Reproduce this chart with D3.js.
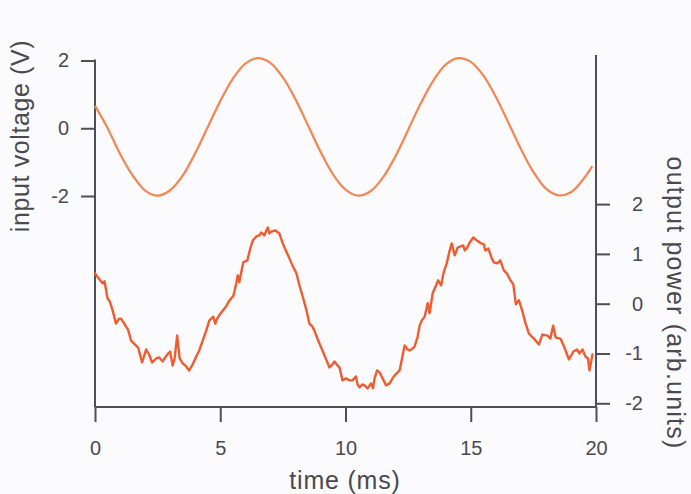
<!DOCTYPE html>
<html>
<head>
<meta charset="utf-8">
<script src="https://cdn.jsdelivr.net/npm/d3@7"></script>
<style>
  html, body { margin: 0; padding: 0; background: #fbfafd; }
  svg { display: block; }
  text { font-family: "Liberation Sans", Arial, Helvetica, sans-serif; fill: #4a4a4e; }
</style>
</head>
<body>
<script>
// Tick values for the three axes
const timeTicks = [0, 5, 10, 15, 20];
const voltageTicks = [-2, 0, 2];
const powerTicks = [-2, -1, 0, 1, 2];

// Drive signal: input voltage (V) vs time (ms)
const inputTime = [0, 0.5, 1, 1.5, 2, 2.5, 3, 3.5, 4, 4.5, 5, 5.5, 6, 6.5, 7, 7.5, 8, 8.5, 9, 9.5,
  10, 10.5, 11, 11.5, 12, 12.5, 13, 13.5, 14, 14.5, 15, 15.5, 16, 16.5, 17, 17.5, 18, 18.5, 19, 19.5, 19.85];
const inputVoltage = [0.66, 0.01, -0.76, -1.39, -1.84, -1.99, -1.83, -1.40, -0.74, 0.03, 0.80, 1.46, 1.91, 2.07,
  1.93, 1.50, 0.86, 0.09, -0.69, -1.36, -1.81, -1.99, -1.86, -1.45, -0.82, -0.05, 0.73, 1.40, 1.88, 2.07,
  1.96, 1.56, 0.93, 0.17, -0.61, -1.29, -1.78, -1.98, -1.89, -1.50, -1.12];

// Detected response: output power (arb. units) vs time (ms)
const outputTime = [0.00, 0.14, 0.30, 0.38, 0.50, 0.60, 0.70, 0.84, 0.96, 1.04, 1.14, 1.24, 1.32, 1.44, 1.60, 1.72,
  1.88, 2.04, 2.16, 2.28, 2.44, 2.56, 2.70, 2.80, 2.92, 3.00, 3.10, 3.18, 3.28, 3.38, 3.50, 3.64, 3.76, 3.90,
  4.04, 4.16, 4.30, 4.44, 4.56, 4.72, 4.80, 4.88, 4.96, 5.08, 5.24, 5.32, 5.44, 5.52, 5.64, 5.70, 5.76, 5.84,
  5.92, 6.08, 6.20, 6.30, 6.44, 6.56, 6.64, 6.76, 6.84, 6.90, 6.96, 7.04, 7.20, 7.36, 7.48, 7.60, 7.76, 7.88,
  8.04, 8.16, 8.30, 8.44, 8.56, 8.68, 8.76, 8.88, 8.96, 9.08, 9.16, 9.28, 9.36, 9.48, 9.56, 9.68, 9.76, 9.88,
  10.02, 10.16, 10.28, 10.42, 10.48, 10.56, 10.68, 10.76, 10.88, 11.02, 11.10, 11.16, 11.26, 11.36, 11.44,
  11.62, 11.76, 11.88, 11.96, 12.16, 12.28, 12.36, 12.48, 12.56, 12.68, 12.76, 12.88, 12.96, 13.04, 13.16,
  13.28, 13.36, 13.48, 13.60, 13.70, 13.82, 13.92, 14.04, 14.14, 14.24, 14.36, 14.48, 14.60, 14.70, 14.76,
  14.84, 14.96, 15.10, 15.24, 15.42, 15.52, 15.58, 15.70, 15.84, 15.92, 16.06, 16.18, 16.32, 16.44, 16.58,
  16.70, 16.80, 16.92, 17.06, 17.18, 17.32, 17.52, 17.72, 17.86, 18.06, 18.18, 18.29, 18.39, 18.58, 18.74,
  18.92, 19.10, 19.24, 19.34, 19.46, 19.58, 19.68, 19.74, 19.86];
const outputPower = [0.61, 0.51, 0.41, 0.45, 0.11, 0.03, -0.13, -0.40, -0.30, -0.30, -0.38, -0.46, -0.52, -0.74,
  -0.82, -0.88, -1.18, -0.92, -1.02, -1.18, -1.10, -1.08, -1.16, -1.08, -1.00, -0.96, -1.24, -1.10, -0.64,
  -1.10, -1.20, -1.26, -1.34, -1.22, -1.06, -0.94, -0.74, -0.54, -0.34, -0.26, -0.40, -0.30, -0.23, -0.15,
  -0.05, 0.03, 0.11, 0.15, 0.41, 0.57, 0.43, 0.63, 0.83, 0.87, 1.11, 1.27, 1.35, 1.37, 1.43, 1.37, 1.47,
  1.53, 1.41, 1.45, 1.47, 1.41, 1.23, 1.09, 0.91, 0.77, 0.61, 0.37, 0.13, -0.13, -0.40, -0.46, -0.54, -0.70,
  -0.80, -0.94, -1.04, -1.18, -1.28, -1.22, -1.16, -1.24, -1.28, -1.54, -1.50, -1.54, -1.54, -1.46, -1.62,
  -1.68, -1.62, -1.64, -1.70, -1.60, -1.70, -1.50, -1.34, -1.38, -1.46, -1.64, -1.60, -1.50, -1.44, -1.34,
  -1.04, -0.84, -0.92, -0.94, -0.90, -0.86, -0.66, -0.44, -0.34, -0.26, 0.01, -0.19, 0.21, 0.35, 0.47, 0.37,
  0.63, 0.81, 1.03, 1.21, 0.97, 1.13, 1.15, 1.17, 1.07, 1.11, 1.23, 1.33, 1.27, 1.21, 1.19, 1.07, 1.11, 0.91,
  0.83, 0.81, 0.87, 0.67, 0.61, 0.47, 0.39, -0.01, 0.07, -0.15, -0.38, -0.60, -0.70, -0.82, -0.62, -0.64,
  -0.70, -0.44, -0.68, -0.70, -0.88, -1.12, -0.96, -0.92, -1.00, -0.92, -1.06, -1.10, -1.34, -1.02];

const W = 691, H = 494;
const axisColor = "#4e4e56";
const plainNumber = d => String(d);   // hyphen-minus, as printed on the axes

const svg = d3.select("body").append("svg")
  .attr("width", W).attr("height", H)
  .style("background", "#fbfafd");

// Scales: shared time axis, left voltage axis (upper trace), right power axis (lower trace)
const x = d3.scaleLinear().domain([0, 20]).range([95, 596]);
const yL = d3.scaleLinear().domain([-2, 2]).range([196, 60.5]);
const yR = d3.scaleLinear().domain([-2, 2]).range([403.3, 204.1]);
const baseY = 407;

function styleAxis(g) {
  g.selectAll("line, path").attr("stroke", axisColor).attr("stroke-width", 2);
  g.selectAll("text").style("font-size", "20px").attr("fill", "#4a4a4e");
}

// Bottom time axis
svg.append("g")
  .attr("transform", `translate(0,${baseY})`)
  .call(d3.axisBottom(x).tickValues(timeTicks).tickSizeInner(15).tickSizeOuter(0).tickPadding(19).tickFormat(plainNumber))
  .call(styleAxis)
  .call(g => g.select(".domain").attr("d", `M${x(0)},0H${x(20)}`));

// Left voltage axis
svg.append("g")
  .attr("transform", `translate(${x(0)},0)`)
  .call(d3.axisLeft(yL).tickValues(voltageTicks).tickSize(14).tickPadding(12).tickFormat(plainNumber))
  .call(styleAxis)
  .call(g => g.select(".domain").attr("d", `M0,${yL(2) - 1}V${baseY}`));

// Right power axis
svg.append("g")
  .attr("transform", `translate(${x(20)},0)`)
  .call(d3.axisRight(yR).tickValues(powerTicks).tickSize(14).tickFormat(plainNumber))
  .call(styleAxis)
  .call(g => g.select(".domain").attr("d", `M0,55V${baseY}`))
  .call(g => g.selectAll(".tick text").attr("text-anchor", "end").attr("x", 47));

// Axis titles
svg.append("text")
  .attr("transform", `translate(29,136) rotate(-90)`)
  .attr("text-anchor", "middle")
  .style("font-size", "25px")
  .style("letter-spacing", "0.6px")
  .text("input voltage (V)");

svg.append("text")
  .attr("transform", `translate(667,303) rotate(90)`)
  .attr("text-anchor", "middle")
  .style("font-size", "25px")
  .style("letter-spacing", "1.2px")
  .text("output power (arb.units)");

svg.append("text")
  .attr("x", 345).attr("y", 489)
  .attr("text-anchor", "middle")
  .style("font-size", "25px")
  .style("letter-spacing", "0.8px")
  .text("time (ms)");

// Input voltage trace
const inputLine = d3.line()
  .x((d, i) => x(inputTime[i]))
  .y(d => yL(d))
  .curve(d3.curveCatmullRom.alpha(0.5));

svg.append("path")
  .datum(inputVoltage)
  .attr("fill", "none")
  .attr("stroke", "#ef8a56")
  .attr("stroke-width", 2.3)
  .attr("stroke-linejoin", "round")
  .attr("d", inputLine);

// Output power trace
const outputLine = d3.line()
  .x((d, i) => x(outputTime[i]))
  .y(d => yR(d));

svg.append("path")
  .datum(outputPower)
  .attr("fill", "none")
  .attr("stroke", "#ee5d30")
  .attr("stroke-width", 2.4)
  .attr("stroke-linejoin", "round")
  .attr("stroke-linecap", "round")
  .attr("d", outputLine);
</script>
</body>
</html>
